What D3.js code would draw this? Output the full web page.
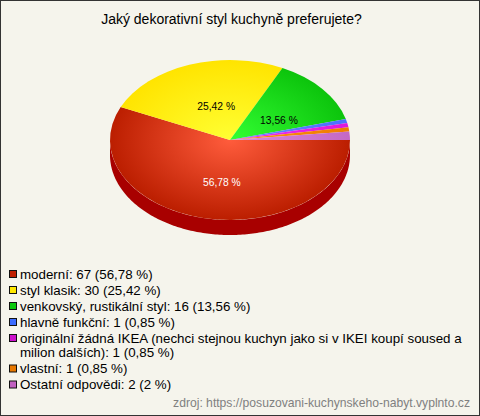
<!DOCTYPE html>
<html><head><meta charset="utf-8">
<script src="https://cdn.jsdelivr.net/npm/d3@7"></script>
<style>html,body{margin:0;padding:0;background:#fff}svg{display:block}text{font-family:"Liberation Sans",Arial,sans-serif}</style>
</head><body><svg id="c" width="480" height="416"></svg>
<script>
const title = "Jaký dekorativní styl kuchyně preferujete?";
const categories = ["moderní","styl klasik","venkovský, rustikální styl","hlavně funkční","originální žádná IKEA (nechci stejnou kuchyn jako si v IKEI koupí soused a milion dalších)","vlastní","Ostatní odpovědi"];
const values = [67,30,16,1,1,1,2];
const percents = ["56,78","25,42","13,56","0,85","0,85","0,85","2"];
const swatch = ["#c01f00","#ffe800","#0cc80c","#3c6cff","#cc10cc","#e87800","#c060c0"];
const centre = ["#ff5c3c","#ffff33","#33ff33","#6688ff","#f030f0","#ff9010","#dd88dd"];
const edge = ["#bb1e00","#ffe400","#0cc40c","#4a70ff","#dd18dd","#ee7c00","#c468c4"];
const legendLines = [
 ["moderní: 67 (56,78 %)"],["styl klasik: 30 (25,42 %)"],["venkovský, rustikální styl: 16 (13,56 %)"],["hlavně funkční: 1 (0,85 %)"],
 ["originální žádná IKEA (nechci stejnou kuchyn jako si v IKEI koupí soused a","milion dalších): 1 (0,85 %)"],["vlastní: 1 (0,85 %)"],["Ostatní odpovědi: 2 (2 %)"]];
const source = "zdroj: https://posuzovani-kuchynskeho-nabyt.vyplnto.cz";

const W=480,H=416,cx=230,cy=140,rx=120,ry=80,depth=15;
const svg=d3.select("#c");
svg.append("rect").attr("x",.5).attr("y",.5).attr("width",W-1).attr("height",H-1).attr("fill","#f5f4ec").attr("stroke","#333");
svg.append("text").attr("x",231.5).attr("y",24).attr("text-anchor","middle").attr("font-size",14).attr("fill","#000").text(title);

const defs=svg.append("defs");
centre.forEach((c,i)=>{
  const g=defs.append("radialGradient").attr("id","g"+i).attr("gradientUnits","userSpaceOnUse").attr("cx",0).attr("cy",0).attr("r",1);
  g.append("stop").attr("offset",0).attr("stop-color",c);
  g.append("stop").attr("offset",1).attr("stop-color",edge[i]);
});
// side wall
const sideArea=d3.area().x(t=>cx+rx*Math.cos(t)).y0(t=>cy+ry*Math.sin(t)).y1(t=>cy+depth+ry*Math.sin(t));
svg.append("path").attr("d",sideArea(d3.range(0,181).map(a=>a*Math.PI/180))).attr("fill","#a80000");
// d3 angles: 0 at north, clockwise; chart starts at east
const pie=d3.pie().sort(null).startAngle(Math.PI/2).endAngle(Math.PI*2.5).value(d=>d);
const arcs=pie(values);
const arc=d3.arc().innerRadius(0).outerRadius(1);
const face=svg.append("g").attr("transform",`translate(${cx},${cy}) scale(${rx},${ry})`);
face.selectAll("path").data(arcs).join("path").attr("d",arc).attr("fill",(d,i)=>`url(#g${i})`);
// value labels
const fx=[.32,.34,.53], fy=[.54,.45,.39];
const labels=svg.append("g").attr("font-size",10.3).attr("text-anchor","middle");
arcs.slice(0,3).forEach((d,i)=>{
  const m=(d.startAngle+d.endAngle)/2-Math.PI/2;
  labels.append("text").attr("x",cx+rx*fx[i]*Math.cos(m)).attr("y",cy+ry*fy[i]*Math.sin(m)+3.5)
    .attr("fill",i==0?"#fff":"#000").text(percents[i]+" %");
});
// legend
let y=278.5;
const lg=svg.append("g").attr("font-size",13.33);
legendLines.forEach((lines,i)=>{
  lg.append("rect").attr("x",9.5).attr("y",y-8).attr("width",7).attr("height",7).attr("fill",swatch[i]).attr("stroke","#111");
  lines.forEach((l,j)=>{lg.append("text").attr("x",20).attr("y",y).attr("fill","#000").text(l);y+=j<lines.length-1?14.5:16;});
});
svg.append("text").attr("x",470).attr("y",407).attr("text-anchor","end").attr("font-size",12.15).attr("fill","#808080").text(source);
</script></body></html>
